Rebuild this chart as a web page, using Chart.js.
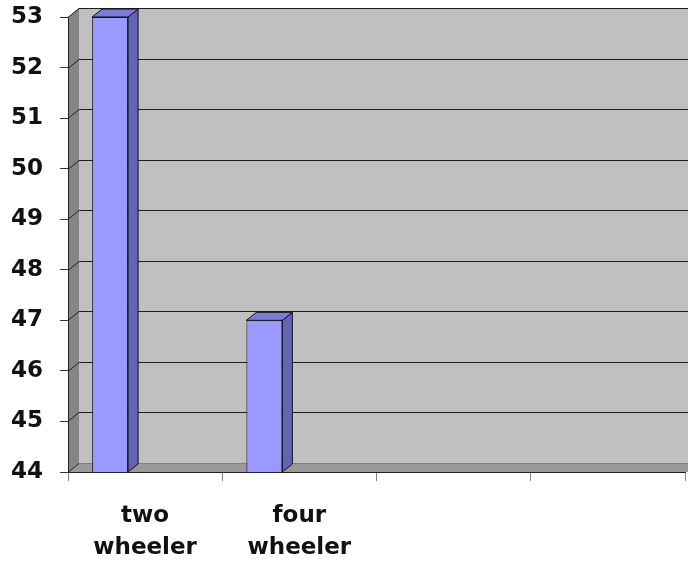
<!DOCTYPE html>
<html>
<head>
<meta charset="utf-8">
<script src="https://cdn.jsdelivr.net/npm/chart.js@4"></script>
<style>
  html, body { margin: 0; padding: 0; background: #fff; }
  #wrap { width: 688px; height: 561px; }
</style>
</head>
<body>
<div id="wrap"><canvas id="myChart"></canvas></div>
<script>
const categories = [['two', 'wheeler'], ['four', 'wheeler'], '', ''];
const vehicleCounts = [53, 47, null, null];
const yMin = 44;
const yMax = 53;

// depth of the walls / columns for the fake 3d look
const WALL_DX = 11, WALL_DY = 9;
const BAR_DX = 10, BAR_DY = 8;
// columns sit left of the category centre (fraction of a category)
const BAR_SHIFT = -0.224;

function poly(ctx, pts, fill, stroke) {
  ctx.beginPath();
  ctx.moveTo(pts[0][0], pts[0][1]);
  for (let i = 1; i < pts.length; i++) ctx.lineTo(pts[i][0], pts[i][1]);
  ctx.closePath();
  if (fill) { ctx.fillStyle = fill; ctx.fill(); }
  if (stroke) { ctx.strokeStyle = stroke; ctx.lineWidth = 1; ctx.stroke(); }
}

const threeD = {
  id: 'threeD',
  beforeDraw(chart) {
    const ctx = chart.ctx, a = chart.chartArea, y = chart.scales.y;
    const far = chart.width + WALL_DX;
    ctx.save();
    // back wall
    poly(ctx, [[a.left + WALL_DX, a.top - WALL_DY], [far, a.top - WALL_DY],
               [far, a.bottom - WALL_DY], [a.left + WALL_DX, a.bottom - WALL_DY]], '#c0c0c0');
    // side wall
    poly(ctx, [[a.left, a.top], [a.left + WALL_DX, a.top - WALL_DY],
               [a.left + WALL_DX, a.bottom - WALL_DY], [a.left, a.bottom]], '#858585');
    // floor
    poly(ctx, [[a.left, a.bottom], [a.left + WALL_DX, a.bottom - WALL_DY],
               [far, a.bottom - WALL_DY], [far, a.bottom]], '#9a9a9a');
    // gridlines bent over the side wall
    ctx.lineWidth = 1;
    y.ticks.forEach(t => {
      const py = Math.round(y.getPixelForValue(t.value)) + 0.5;
      ctx.strokeStyle = '#1e1e1e';
      ctx.beginPath();
      ctx.moveTo(a.left, py);
      ctx.lineTo(a.left + WALL_DX, py - WALL_DY);
      if (t.value === yMin) {
        ctx.stroke();
        ctx.strokeStyle = '#808080';
        ctx.beginPath();
        ctx.moveTo(a.left + WALL_DX, py - WALL_DY);
      }
      ctx.lineTo(far, py - WALL_DY);
      ctx.stroke();
    });
    ctx.restore();
  },
  beforeDatasetsDraw(chart) {
    const x = chart.scales.x;
    const cw = x.getPixelForValue(1) - x.getPixelForValue(0);
    chart.ctx.save();
    chart.ctx.translate(Math.round(cw * BAR_SHIFT), 0);
  },
  afterDatasetsDraw(chart) {
    const ctx = chart.ctx;
    const floor = chart.chartArea.bottom;
    chart.getDatasetMeta(0).data.forEach((bar, i) => {
      if (vehicleCounts[i] == null) return;
      const l = bar.x - bar.width / 2, r = bar.x + bar.width / 2;
      const top = bar.y, base = Math.min(bar.base, floor);
      poly(ctx, [[r, top], [r + BAR_DX, top - BAR_DY], [r + BAR_DX, base - BAR_DY], [r, base]], '#6464b4', '#111');
      poly(ctx, [[l, top], [l + BAR_DX, top - BAR_DY], [r + BAR_DX, top - BAR_DY], [r, top]], '#7b7bdc', '#111');
    });
    ctx.restore();
  }
};

const ctx = document.getElementById('myChart');

new Chart(ctx, {
  type: 'bar',
  data: {
    labels: categories,
    datasets: [{
      data: vehicleCounts,
      backgroundColor: '#9999ff',
      borderColor: '#111',
      borderWidth: 1,
      categoryPercentage: 1,
      barPercentage: 0.233
    }]
  },
  options: {
    responsive: true,
    maintainAspectRatio: false,
    animation: false,
    layout: { padding: { top: 17, right: 3, left: 0, bottom: 0 } },
    scales: {
      x: {
        offset: true,
        grid: { offset: true, drawOnChartArea: false, tickLength: 9, color: '#808080' },
        border: { color: '#222' },
        ticks: {
          padding: 20,
          color: '#111',
          maxRotation: 0,
          autoSkip: false,
          font: { family: 'DejaVu Sans', size: 23, weight: 'bold', lineHeight: 1.35 }
        },
        afterFit(scale) { scale.height = 89; }
      },
      y: {
        min: yMin,
        max: yMax,
        grid: { drawOnChartArea: false, tickLength: 8, color: '#333' },
        border: { color: '#222' },
        ticks: {
          stepSize: 1,
          padding: 17,
          color: '#111',
          font: { family: 'DejaVu Sans', size: 23, weight: 'bold' }
        },
        afterFit(scale) {
          scale.width = 68;
          scale.paddingTop = 0;
          scale.paddingBottom = 0;
        }
      }
    },
    plugins: {
      legend: { display: false },
      tooltip: { enabled: false }
    }
  },
  plugins: [threeD]
});
</script>
</body>
</html>
